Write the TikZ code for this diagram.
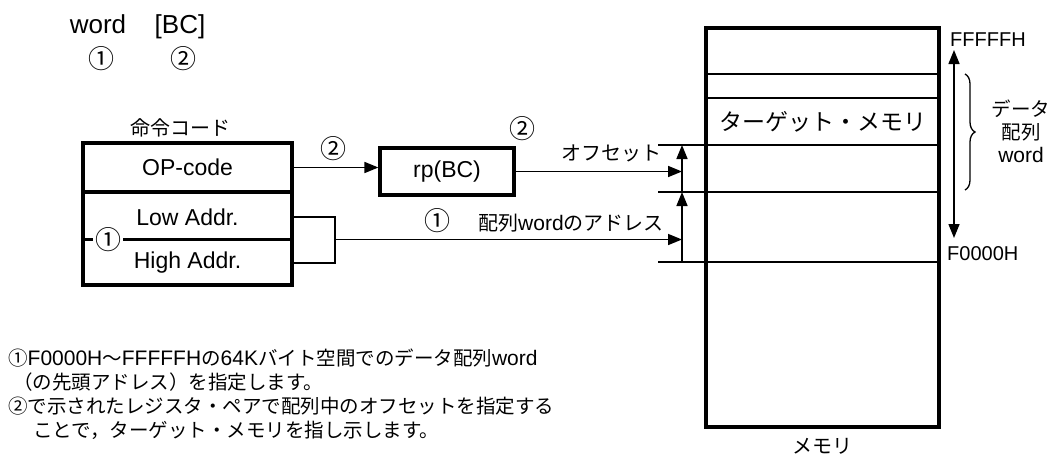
\documentclass[tikz,border=0pt]{standalone}
\usepackage{fontspec}
\setmainfont{Liberation Sans}
\newfontfamily\jp{Noto Sans CJK JP}
\newcommand\lat[1]{{\fontspec{Liberation Sans}\fontsize{21}{21}\selectfont #1}}
\usetikzlibrary{arrows.meta, positioning, calc, decorations.pathreplacing}

\begin{document}
\begin{tikzpicture}[
    x=1pt, y=-1pt,
    >={Triangle[length=14pt, width=11pt]},
    lat/.style={inner sep=0pt, font=\fontsize{#1}{#1}\selectfont},
    lat/.default=23,
    jpt/.style={inner sep=0pt, font=\jp\fontsize{#1}{#1}\selectfont},
    jpt/.default=19.5,
    num/.style={inner sep=0pt, font=\jp\fontsize{26}{26}\selectfont},
    field/.style={rectangle, draw, line width=3.2pt, minimum width=209pt, inner sep=0pt, font=\fontsize{23}{23}\selectfont},
    conn/.style={line width=1.6pt},
    arr/.style={->, line width=1.6pt},
    row/.style={line width=1.7pt}
  ]
  \useasboundingbox (0,0) rectangle (1057,459);

  % Instruction syntax
  \node[lat=26, anchor=base] (word) at (98,33) {word};
  \node[lat=26, anchor=base] (bc) at (180,33) {[BC]};
  \node[num] (n1top) at (101,59) {①};
  \node[num] (n2top) at (183,59) {②};

  % Instruction code
  \node[jpt=20] (title) at (180,128) {命令コード};
  \node[field, minimum height=49pt] (op) at (187.5,167.5) {OP-code};
  \node[field, minimum height=93pt] (addr) at (187.5,238.5) {};
  \node[lat] (lo) at (187.5,217) {Low Addr.};
  \node[lat] (hi) at (187.5,263) {High Addr.};
  \coordinate (dv) at (108,239.5);
  \draw[line width=2.2pt] (addr.west |- dv) -- (addr.east |- dv);
  \node[num, fill=white, inner xsep=2pt] (n1in) at (dv) {①};

  % Register pair
  \node[rectangle, draw, line width=3.2pt, minimum width=134pt, minimum height=47pt, inner sep=0pt, font=\fontsize{23}{23}\selectfont] (rp) at (447,171.5) {rp(BC)};
  \node[num] (n2a) at (333,149) {②};
  \node[num] (n2b) at (522,129) {②};

  % Memory
  \node[rectangle, draw, line width=3.2pt, minimum width=233pt, minimum height=399pt] (mem) at (822.5,227.5) {};
  \node[jpt=23] (target) at (822.5,122) {ターゲット・メモリ};
  \node[jpt=20] (memlbl) at (822.5,446) {メモリ};
  \foreach \y in {74,98} {
    \draw[row] (mem.west |- 0,\y) -- (mem.east |- 0,\y);
  }
  \coordinate (t1) at (658,145);
  \coordinate (t2) at (658,192);
  \coordinate (t3) at (658,262);
  \foreach \t in {t1,t2,t3} {
    \draw[row] (\t) -- (\t -| mem.east);
  }
  \coordinate (vx) at (682,0);
  \draw[arr] (t2 -| vx) -- (t1 -| vx);
  \draw[arr] (t3 -| vx) -- (t2 -| vx);

  % Connectors
  \draw[arr] (op.east) -- (op.east -| rp.west);
  \draw[arr] (rp.east) -- (rp.east -| vx);
  \node[jpt=20] (offs) at (611,153) {オフセット};
  \coordinate (jn) at (335,239.5);
  \draw[conn] (addr.east |- lo) -| (jn) |- (addr.east |- hi);
  \draw[arr] (jn) -- (jn -| vx);
  \node[num] (n1a) at (437,221) {①};
  \node[jpt=20] (arrad) at (571,223) {配列\lat{word}のアドレス};

  % Address range
  \node[lat=20, anchor=west] (top) at (950,40) {FFFFFH};
  \node[lat=20, anchor=west] (bot) at (947,254) {F0000H};
  \coordinate (rtop) at (954,50);
  \coordinate (rbot) at (954,238);
  \draw[<->, line width=1.5pt] (rtop) -- (rbot);
  \coordinate (br1) at (965,74);
  \coordinate (br2) at (965,190);
  \draw[line width=1.3pt, decorate, decoration={brace, amplitude=10pt}] (br1) -- (br2);
  \node[jpt=19, align=center, font=\jp\fontsize{19.5}{23}\selectfont] (arrw) at (1021,131) {データ\\配列\\\lat{word}};

  % Notes
  \node[jpt, anchor=west] (note1) at (8,358) {①\lat{F0000H}〜\lat{FFFFFH}の\lat{64K}バイト空間でのデータ配列\lat{word}};
  \node[jpt, anchor=west] (note2) at (13,382) {（の先頭アドレス）を指定します。};
  \node[jpt, anchor=west] (note3) at (8,406) {②で示されたレジスタ・ペアで配列中のオフセットを指定する};
  \node[jpt, anchor=west] (note4) at (33,430) {ことで，ターゲット・メモリを指し示します。};

\end{tikzpicture}
\end{document}
